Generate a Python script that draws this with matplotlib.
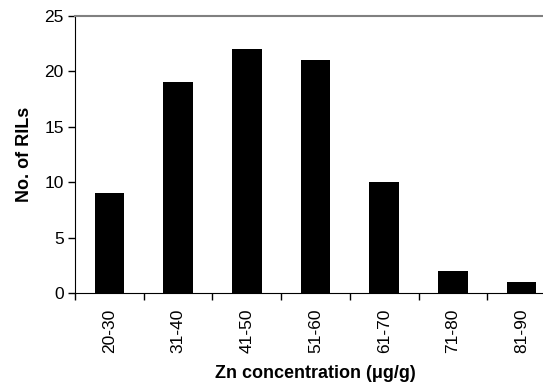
import matplotlib
matplotlib.use("Agg")
import matplotlib.pyplot as plt
import numpy as np

plt.rcParams['font.family'] = ['Liberation Sans', 'DejaVu Sans']

categories = ['20-30', '31-40', '41-50', '51-60', '61-70', '71-80', '81-90']
counts = [9, 19, 22, 21, 10, 2, 1]

fig = plt.figure(figsize=(5.43, 3.86), dpi=100)
ax = fig.add_axes([0.138, 0.241, 0.886, 0.718])

x = np.arange(len(categories))
ax.bar(x, counts, width=0.43, color='black')

ax.set_xlim(-0.5, len(categories) - 0.5)
ax.set_ylim(0, 25)
ax.set_yticks([0, 5, 10, 15, 20, 25])

ax.set_xticks(x)
ax.set_xticklabels(categories, rotation=90, fontsize=12.5)
ax.tick_params(axis='x', which='major', length=0, pad=11)
ax.set_xticks(np.arange(-0.5, len(categories), 1), minor=True)
ax.tick_params(axis='x', which='minor', length=5, width=1)
ax.tick_params(axis='y', labelsize=12.5, length=5, width=1, pad=3)

ax.spines['right'].set_visible(False)
ax.spines['top'].set_color('gray')
ax.spines['top'].set_linewidth(1.5)

ax.set_xlabel('Zn concentration (\u03bcg/g)', fontsize=13, fontweight='bold', labelpad=9)
ax.set_ylabel('No. of RILs', fontsize=13, fontweight='bold', labelpad=8)

fig.savefig('out.png', dpi=100)
